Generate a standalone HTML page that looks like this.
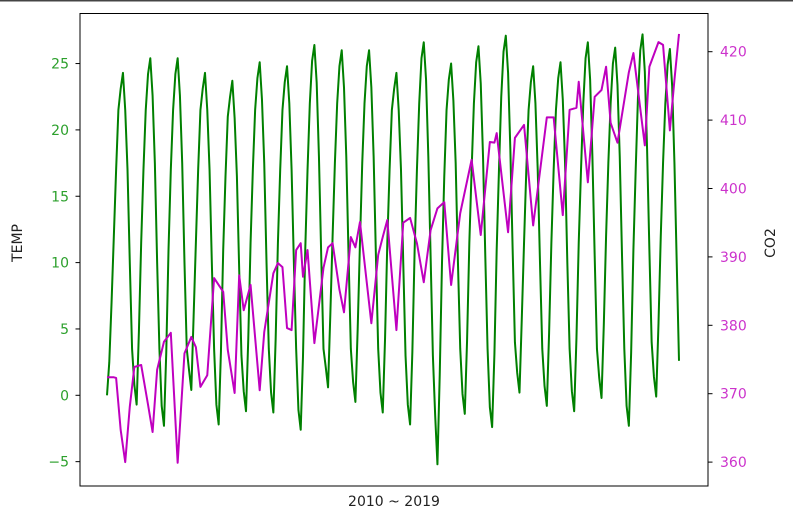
<!DOCTYPE html>
<html><head><meta charset="utf-8"><style>
body{margin:0;background:#fff;}
svg{display:block;font-family:"DejaVu Sans","Liberation Sans",sans-serif;}
</style></head><body>
<svg id="chart" width="793" height="525">
<rect x="0" y="0" width="793" height="1.5" fill="#444"/>
<g id="plot"></g>
</svg>
<script>
const tempValues = [
0,2.5,7,12,17,21.5,23.1,24.3,21.5,17,10,3.5,
0.8,-0.7,4.8,11.5,17,21.5,24.2,25.4,22.6,17.5,10,3.5,
-0.8,-2.3,3.2,11,17,21.5,24.2,25.4,22.6,17.5,10,3.5,
1.9,0.4,5.9,11.5,17,21.5,23.1,24.3,21.5,17,10,3.5,
-0.7,-2.2,3.3,11,16.5,21,22.5,23.7,20.9,16.5,9.5,3,
0.3,-1.2,4.3,11.5,17,21.5,23.9,25.1,22.3,17.5,10,3.5,
0.2,-1.3,4.2,11.5,17,21.5,23.6,24.8,22,17,10,3.5,
-1.1,-2.6,2.9,11,17,22,25.2,26.4,23.6,18,10.5,3.5,
2.1,0.6,6.1,12,17.5,22,24.8,26,23.2,18,10.5,3.5,
1,-0.5,5,11.5,17.5,22,24.8,26,23.2,18,10.5,3.5,
0.2,-1.3,4.2,11.5,17,21.5,23.1,24.3,21.5,17,10,3,
-0.7,-2.2,3.3,11,17,22,25.4,26.6,23.8,18,10.5,3,
-1.5,-5.2,1.5,10,16.5,21.5,23.8,25,22.2,17.5,10,3.5,
0.1,-1.4,4.1,11.5,17,22,25.1,26.3,23.5,18,10.5,3.5,
-0.9,-2.4,3.1,11,17,22.5,25.9,27.1,24.3,18.5,11,4,
1.7,0.2,5.7,11.5,17,21.5,23.6,24.8,22,17,10,3.5,
0.7,-0.8,4.7,11.5,17,21.5,23.9,25.1,22.3,17.5,10,3.5,
0.3,-1.2,4.3,11.5,17,22,25.4,26.6,23.8,18,10.5,3.5,
1.3,-0.2,5.3,12,17.5,22,25,26.2,23.4,18,10.5,3.5,
-0.8,-2.3,3.2,11,17,22.5,26,27.2,24.4,18.5,11,4,
1.4,-0.1,5.4,12,17.5,22,24.9,26.1,23.3,17.5,10,2.6
];
const co2Months = [0,3,4,6,8,10,12,15,18,20,22,25,28,31,34,37,39,41,44,47,51,53,56,58,60,63,67,69,73,75,77,79,81,83,85,86,88,91,95,97,99,102,104,107,109,111,116,119,121,123,127,130,133,136,139,142,145,148,151,155,160,164,168,170,171,176,179,183,187,193,196,200,203,206,207,211,214,217,219,221,224,229,231,236,238,242,244,247,249,251];
const co2Values = [372.4,372.4,372.3,364.7,360.0,368.1,373.9,374.2,368.4,364.4,373.5,377.6,378.9,359.9,375.9,378.3,376.8,371.0,372.7,386.9,384.9,376.4,370.1,387.3,382.2,385.9,370.5,379.0,387.6,389.1,388.5,379.6,379.3,391.0,392.0,387.1,391.0,377.4,388.4,391.4,392.0,385.2,381.9,392.9,391.4,395.1,380.3,390.3,392.9,395.4,379.3,395.0,395.7,392.0,386.3,393.9,397.1,398.0,385.9,396.4,404.2,393.2,406.8,406.7,408.1,393.6,407.4,409.3,394.6,410.4,410.4,396.1,411.5,411.8,415.6,400.9,413.4,414.4,417.8,409.6,406.7,417.0,419.8,406.3,417.8,421.4,421.0,408.5,415.9,422.6];
const tempTicks = [-5,0,5,10,15,20,25];
const co2Ticks = [360,370,380,390,400,410,420];

const NS="http://www.w3.org/2000/svg";
const L=80,R=708,T=13.5,B=486;
const xS=m=>107+m*(572/251);
const yT=v=>395.3-v*13.27;
const yC=v=>51.7+(420-v)*6.84;
const g=document.getElementById('plot');
function mk(tag,attrs,parent){const e=document.createElementNS(NS,tag);for(const k in attrs)e.setAttribute(k,attrs[k]);(parent||g).appendChild(e);return e;}

let d=tempValues.map((v,i)=>(i?'L':'M')+xS(i).toFixed(2)+','+yT(v).toFixed(2)).join('');
const tl=mk('path',{d:d,fill:'none',stroke:'#008000','stroke-width':2,'stroke-linejoin':'round'});


d=co2Values.map((v,i)=>(i?'L':'M')+xS(co2Months[i]).toFixed(2)+','+yC(v).toFixed(2)).join('');
const cl=mk('path',{d:d,fill:'none',stroke:'#bf00bf','stroke-width':2,'stroke-linejoin':'round'});



const fr=mk('rect',{x:L,y:T,width:R-L,height:B-T,fill:'none',stroke:'#000','stroke-width':1});



tempTicks.forEach(t=>{
  const y=yT(t);
  const tk=mk('line',{x1:L-4.5,x2:L,y1:y,y2:y,stroke:'#000','stroke-width':1});
  
  
  const tx=mk('text',{x:L-11,y:y+5,'text-anchor':'end','font-size':14,fill:'#2ca02c'});
  tx.textContent=t<0?'\u2212'+Math.abs(t):String(t);
  
  
});
co2Ticks.forEach(t=>{
  const y=yC(t);
  const tk=mk('line',{x1:R,x2:R+4.5,y1:y,y2:y,stroke:'#000','stroke-width':1});
  
  
  const tx=mk('text',{x:R+12,y:y+5,'text-anchor':'start','font-size':14,fill:'#cc33cc'});
  tx.textContent=String(t);
  
  
});
const yl=mk('text',{x:0,y:0,transform:'translate(22,243) rotate(-90)','text-anchor':'middle','font-size':14,fill:'#222'});
yl.textContent='TEMP';


const yr=mk('text',{x:0,y:0,transform:'translate(775,243) rotate(-90)','text-anchor':'middle','font-size':14,fill:'#222'});
yr.textContent='CO2';


const xl=mk('text',{x:394,y:506,'text-anchor':'middle','font-size':14,fill:'#222'});
xl.textContent='2010 ~ 2019';


</script>
</body></html>
